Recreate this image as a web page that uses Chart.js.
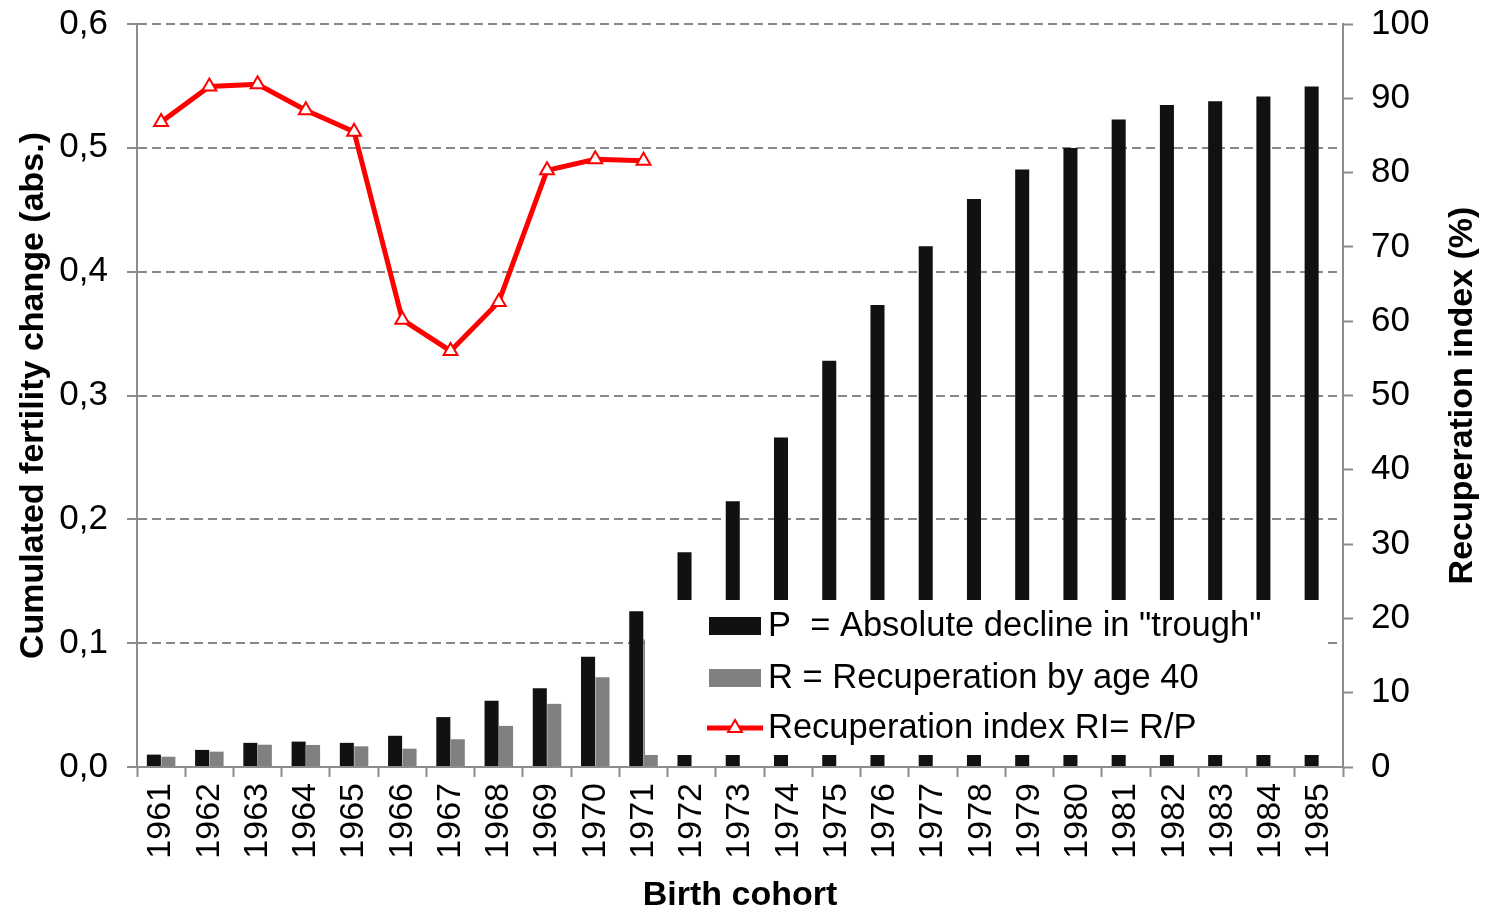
<!DOCTYPE html>
<html>
<head>
<meta charset="utf-8">
<title>Recuperation index by birth cohort</title>
<script src="https://cdn.jsdelivr.net/npm/chart.js@4.4.1/dist/chart.umd.min.js"></script>
<style>
  html, body { margin: 0; padding: 0; background: #fff; }
  #wrap { width: 1485px; height: 910px; }
</style>
</head>
<body>
<div id="wrap"><canvas id="chart" width="1485" height="910"></canvas></div>
<script>
// birth cohorts
const cohorts = ['1961', '1962', '1963', '1964', '1965', '1966', '1967', '1968', '1969', '1970',
  '1971', '1972', '1973', '1974', '1975', '1976', '1977', '1978', '1979', '1980',
  '1981', '1982', '1983', '1984', '1985'];

// P = absolute decline in "trough"
const declineP = [0.010, 0.0138, 0.0195, 0.0205, 0.0195, 0.0252, 0.0403, 0.0535, 0.0635, 0.0891,
  0.1258, 0.1735, 0.2146, 0.266, 0.328, 0.373, 0.4205, 0.4586, 0.4826, 0.4999,
  0.5229, 0.5345, 0.5377, 0.5415, 0.5496];

// R = recuperation by age 40
const recupR = [0.0083, 0.0124, 0.018, 0.0178, 0.0167, 0.0148, 0.0224, 0.0332, 0.051, 0.0725,
  0.103, null, null, null, null, null, null, null, null, null,
  null, null, null, null, null];

// RI = R/P in %
const recupIndex = [86.8, 91.6, 91.9, 88.4, 85.5, 60.2, 56.0, 62.6, 80.3, 81.8,
  81.6, null, null, null, null, null, null, null, null, null,
  null, null, null, null, null];

const leftTicks = [0, 0.1, 0.2, 0.3, 0.4, 0.5, 0.6];
const rightTicks = [0, 10, 20, 30, 40, 50, 60, 70, 80, 90, 100];

const legendLabels = ['P  = Absolute decline in "trough"', 'R = Recuperation by age 40', 'Recuperation index RI= R/P'];

const FONT = '"Liberation Sans", Arial, sans-serif';
const BLACK = '#111111';
const GREY = '#808080';
const RED = '#ff0000';
const AXIS = '#8c8c8c';

function triangle(ctx, cx, cy, r) {
  ctx.beginPath();
  ctx.moveTo(cx, cy - r);
  ctx.lineTo(cx + r * 0.866, cy + r * 0.5);
  ctx.lineTo(cx - r * 0.866, cy + r * 0.5);
  ctx.closePath();
  ctx.fill();
  ctx.stroke();
}

// legend box drawn over the bars, like the original
const legendBox = {
  id: 'legendBox',
  afterDatasetsDraw(chart) {
    const ctx = chart.ctx;
    const area = chart.chartArea;
    const left = area.left + 508, top = area.bottom - 167;
    const right = area.right - 15, bottom = area.bottom - 12;
    ctx.save();
    ctx.fillStyle = '#fff';
    ctx.fillRect(left, top, right - left, bottom - top);

    const sx = left + 64, sw = 52, tx = left + 123;
    const rows = [area.bottom - 141, area.bottom - 89, area.bottom - 39];
    ctx.fillStyle = BLACK;
    ctx.fillRect(sx, rows[0] - 9, sw, 18);
    ctx.fillStyle = GREY;
    ctx.fillRect(sx, rows[1] - 9, sw, 18);

    ctx.strokeStyle = RED;
    ctx.lineWidth = 5;
    ctx.beginPath();
    ctx.moveTo(sx - 2, rows[2]);
    ctx.lineTo(sx + sw + 2, rows[2]);
    ctx.stroke();
    ctx.fillStyle = '#fff';
    ctx.lineWidth = 2;
    triangle(ctx, sx + sw / 2, rows[2], 8);

    ctx.fillStyle = '#000';
    ctx.font = '34.5px ' + FONT;
    ctx.textBaseline = 'middle';
    ctx.textAlign = 'left';
    legendLabels.forEach((t, i) => ctx.fillText(t, tx, rows[i]));
    ctx.restore();
  },
  afterDraw(chart) {
    // right axis title reads bottom to top
    const ctx = chart.ctx;
    const y1 = chart.scales.y1;
    ctx.save();
    ctx.translate(1463, (y1.top + y1.bottom) / 2);
    ctx.rotate(-Math.PI / 2);
    ctx.font = 'bold 34px ' + FONT;
    ctx.fillStyle = '#000';
    ctx.textAlign = 'center';
    ctx.textBaseline = 'middle';
    ctx.fillText('Recuperation index (%)', 0, 0);
    ctx.restore();
  }
};

new Chart(document.getElementById('chart'), {
  type: 'bar',
  data: {
    labels: cohorts,
    datasets: [
      {
        type: 'line',
        label: legendLabels[2],
        data: recupIndex,
        yAxisID: 'y1',
        borderColor: RED,
        borderWidth: 5,
        pointStyle: 'triangle',
        pointRadius: 8,
        pointBackgroundColor: '#fff',
        pointBorderColor: RED,
        pointBorderWidth: 2,
        tension: 0,
        spanGaps: false,
        order: 0
      },
      {
        label: legendLabels[0],
        data: declineP,
        backgroundColor: BLACK,
        yAxisID: 'y',
        categoryPercentage: 0.6,
        barPercentage: 0.97,
        order: 1
      },
      {
        label: legendLabels[1],
        data: recupR,
        backgroundColor: GREY,
        yAxisID: 'y',
        categoryPercentage: 0.6,
        barPercentage: 0.97,
        order: 1
      }
    ]
  },
  options: {
    responsive: false,
    devicePixelRatio: 1,
    animation: false,
    layout: { padding: { top: 24, left: 0, right: 0, bottom: 0 } },
    plugins: {
      legend: { display: false },
      tooltip: { enabled: false }
    },
    scales: {
      x: {
        offset: true,
        grid: {
          offset: true,
          drawOnChartArea: false,
          drawTicks: true,
          tickLength: 10,
          tickColor: AXIS,
          tickWidth: 2
        },
        border: { display: true, color: AXIS, width: 2 },
        ticks: {
          autoSkip: false,
          maxRotation: 90,
          minRotation: 90,
          padding: 6,
          color: '#000',
          font: { family: FONT, size: 34 }
        },
        title: {
          display: true,
          text: 'Birth cohort',
          color: '#000',
          font: { family: FONT, size: 34, weight: 'bold', lineHeight: 1 },
          padding: { top: 0, bottom: -3 }
        },
        afterFit(scale) { scale.height = 143; }
      },
      y: {
        position: 'left',
        min: 0,
        max: 0.6,
        afterBuildTicks(scale) { scale.ticks = leftTicks.map(v => ({ value: v })); },
        grid: {
          color: '#888',
          lineWidth: 2,
          drawTicks: true,
          tickLength: 10,
          tickColor: AXIS,
          tickWidth: 2
        },
        border: { display: true, color: AXIS, width: 2, dash: [9, 5] },
        ticks: {
          padding: 19,
          color: '#000',
          font: { family: FONT, size: 35 },
          callback: v => v.toFixed(1).replace('.', ',')
        },
        title: {
          display: true,
          text: 'Cumulated fertility change (abs.)',
          color: '#000',
          font: { family: FONT, size: 34, weight: 'bold', lineHeight: 1 },
          padding: { top: 17, bottom: 0 }
        },
        afterFit(scale) {
          scale.width = 137;
          scale.paddingTop = 0;
          scale.paddingBottom = 0;
        }
      },
      y1: {
        position: 'right',
        min: 0,
        max: 100,
        afterBuildTicks(scale) { scale.ticks = rightTicks.map(v => ({ value: v })); },
        grid: {
          drawOnChartArea: false,
          drawTicks: true,
          tickLength: 10,
          tickColor: AXIS,
          tickWidth: 2
        },
        border: { display: true, color: AXIS, width: 2 },
        ticks: {
          padding: 18,
          color: '#000',
          font: { family: FONT, size: 35 }
        },
        afterFit(scale) {
          scale.width = 142;
          scale.paddingTop = 0;
          scale.paddingBottom = 0;
        }
      }
    }
  },
  plugins: [legendBox]
});
</script>
</body>
</html>
